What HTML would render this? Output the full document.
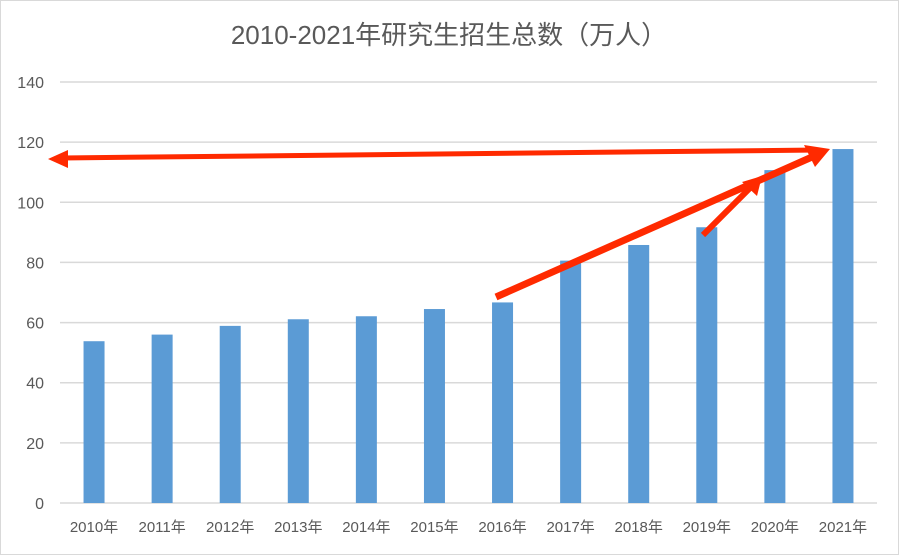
<!DOCTYPE html>
<html><head><meta charset="utf-8"><style>
body{margin:0;background:#fff}
svg{display:block;font-family:"Liberation Sans","Noto Sans CJK SC",sans-serif}
</style></head><body>
<svg id="c" width="899" height="555">
<rect x="0.5" y="0.5" width="898" height="554" fill="#fff" stroke="#d9d9d9"/>
<text x="449" y="44" text-anchor="middle" font-size="26" fill="#595959">2010-2021年研究生招生总数（万人）</text>
<g id="grid"></g><g id="bars"></g><g id="xl"></g>
<g>
<line x1="818" y1="150" x2="62" y2="158" stroke="#ff2a00" stroke-width="5"/>
<polygon points="48,159 68,150 68,168" fill="#ff2a00"/>
<line x1="496" y1="297" x2="812" y2="157" stroke="#ff2a00" stroke-width="7"/>
<polygon points="830,149 804,145 815,167" fill="#ff2a00"/>
<line x1="703" y1="235" x2="752" y2="186" stroke="#ff2a00" stroke-width="6"/>
<polygon points="762,176 742,182 757,196" fill="#ff2a00"/>
</g>
</svg>
<script>
const categories=["2010年","2011年","2012年","2013年","2014年","2015年","2016年","2017年","2018年","2019年","2020年","2021年"];
const values=[53.8,56.0,58.9,61.1,62.1,64.5,66.7,80.6,85.8,91.7,110.7,117.7];
const yTicks=[0,20,40,60,80,100,120,140];
const ns="http://www.w3.org/2000/svg";
const x0=60,x1=877,y0=503,yTop=82,yMax=140;
const y=v=>y0-(v/yMax)*(y0-yTop);
const step=(x1-x0)/categories.length;
const xc=i=>x0+step*(i+0.5);
function mk(t,a,p){const e=document.createElementNS(ns,t);for(const k in a)e.setAttribute(k,a[k]);p.appendChild(e);return e;}
const g=document.getElementById('grid'),b=document.getElementById('bars'),xl=document.getElementById('xl');
yTicks.forEach(v=>{
 const l=mk('line',{x1:x0,x2:x1,y1:y(v),y2:y(v),stroke:'#d9d9d9','stroke-width':1.5},g);
 
 
 const t=mk('text',{x:44,y:y(v)+6,'text-anchor':'end','font-size':16,fill:'#595959'},g);
 t.textContent=v;
 
 
});
values.forEach((v,i)=>{
 const r=mk('rect',{x:xc(i)-10.5,y:y(v),width:21,height:y0-y(v),fill:'#5b9bd5'},b);
 
 
 const t=mk('text',{x:xc(i),y:532,'text-anchor':'middle','font-size':15,fill:'#595959'},xl);
 t.textContent=categories[i];
 
 
});
</script>
</body></html>
